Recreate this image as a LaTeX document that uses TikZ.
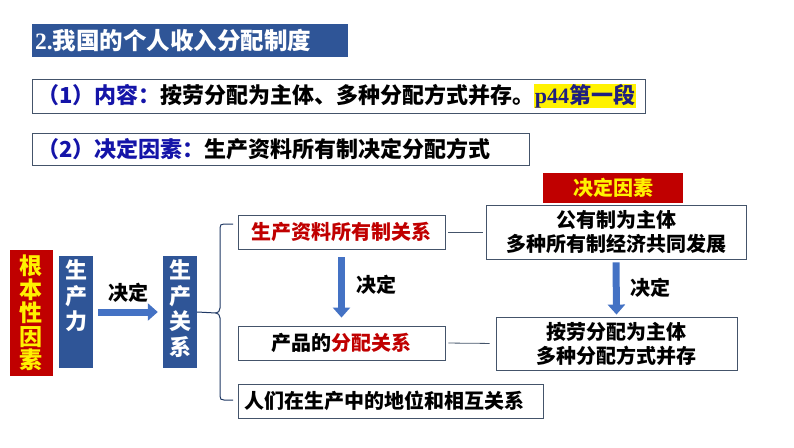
\documentclass[tikz,border=0pt]{standalone}
\usepackage{fontspec}
\usepackage{xcolor}
\usepackage{tikz}
\setmainfont{Noto Sans CJK SC}
\newfontfamily\tms{Liberation Serif}
\usetikzlibrary{arrows.meta}

\definecolor{titleblue}{HTML}{2F5597}
\definecolor{darkred}{HTML}{C00000}
\definecolor{labelblue}{HTML}{1414A8}
\definecolor{navy}{HTML}{1F1F80}
\definecolor{framecol}{HTML}{44546A}
\definecolor{arrowfill}{HTML}{4472C4}
\definecolor{bracecol}{HTML}{1F3864}

\begin{document}
\begin{tikzpicture}[x=1pt,y=-1pt]
  \tikzstyle{frame}=[draw=framecol,line width=0.9pt,inner sep=0pt,font=\bfseries\fontsize{20}{24}\selectfont,align=center]
  \tikzstyle{vbox}=[fill=titleblue,inner sep=0pt,text=white,font=\bfseries\fontsize{22}{25.5}\selectfont]
  \tikzstyle{bigarrow}=[draw=arrowfill!70!black,line width=7pt,-{Triangle[length=10pt,width=17pt]},arrowfill]
  \tikzstyle{link}=[draw=framecol,line width=0.8pt]
  \tikzstyle{brace}=[draw=bracecol,line width=1pt]
  \tikzstyle{verb}=[font=\bfseries\fontsize{20}{24}\selectfont]
  \useasboundingbox (0,0) rectangle (794,447);

  % header lines
  \node[fill=titleblue,minimum width=316pt,minimum height=33pt,inner sep=0pt,
    text width=310pt,align=left,text=white,font=\bfseries\fontsize{23.5}{26}\selectfont]
    (title) at (190,40.5) {{\tms\bfseries 2.}我国的个人收入分配制度};
  \node[frame,minimum width=613pt,minimum height=34pt,text width=603pt,align=left,
    font=\bfseries\fontsize{22}{24}\selectfont]
    (content) at (338.5,96) {\textcolor{labelblue}{（1）内容：}按劳分配为主体、多种分配方式并存。{\fboxsep=0.5pt\colorbox{yellow}{\textcolor{navy}{{\tms\bfseries p44}第一段}}}};
  \node[frame,minimum width=497pt,minimum height=32pt,text width=487pt,align=left,
    font=\bfseries\fontsize{22}{24}\selectfont]
    (factor) at (280.5,149) {\textcolor{labelblue}{（2）决定因素：}生产资料所有制决定分配方式};

  % left column
  \node[vbox,fill=darkred,text=yellow,minimum width=43pt,minimum height=126pt,
    font=\bfseries\fontsize{23}{23.5}\selectfont]
    (root) at (31.5,313) {\parbox[c][118pt][c]{26pt}{\centering 根\\本\\性\\因\\素}};
  \node[vbox,minimum width=34pt,minimum height=112pt] (sl) at (76,312)
    {\parbox[c][104pt][t]{24pt}{\centering 生\\产\\力}};
  \node[vbox,minimum width=34pt,minimum height=112pt] (sg) at (180,312)
    {\parbox[c][104pt][t]{24pt}{\centering 生\\产\\关\\系}};
  \draw[bigarrow,shorten <=5pt,shorten >=5pt] (sl.east) -- (sg.west);
  \node[verb] (d1) at (128,293) {决定};

  % brace
  \coordinate (tip) at (216,313);
  \draw[brace] (sg.east) -- (tip);
  \draw[brace] (233,224) -- (224,224) .. controls (221,224) and (220,225) .. (220,228)
    -- (220,308) .. controls (220,311) and (218,313) .. (tip)
    .. controls (218,313) and (220,315) .. (220,318)
    -- (220,396) .. controls (220,399) and (221,400) .. (224,400) -- (233,400);

  % middle column
  \node[frame,minimum width=207pt,minimum height=34pt,text=darkred] (sc) at (341.5,232) {生产资料所有制关系};
  \node[frame,minimum width=207pt,minimum height=34pt] (fp) at (341.5,343) {产品的\textcolor{darkred}{分配关系}};
  \node[frame,minimum width=305pt,minimum height=34pt,text width=293pt,align=left] (rel) at (390.5,401) {人们在生产中的地位和相互关系};
  \draw[bigarrow,shorten <=8pt,shorten >=8pt] (sc.south) -- (fp.north);
  \node[verb] (d2) at (376,285) {决定};

  % right column
  \node[fill=darkred,text=yellow,minimum width=140pt,minimum height=30pt,inner sep=0pt,
    font=\bfseries\fontsize{20}{24}\selectfont] (key) at (613,188) {决定因素};
  \node[frame,minimum width=260pt,minimum height=54pt] (own) at (616,232) {公有制为主体\\多种所有制经济共同发展};
  \node[frame,minimum width=241pt,minimum height=53pt] (dist) at (616.5,343.5) {按劳分配为主体\\多种分配方式并存};
  \draw[bigarrow,shorten <=3pt,shorten >=2pt] (own.south) -- (dist.north);
  \node[verb] (d3) at (650,288) {决定};

  \draw[link,shorten <=3pt,shorten >=3pt] (sc.east) -- (own.west);
  \draw[link,shorten <=3pt,shorten >=6pt] (fp.east) -- (dist.west);
\end{tikzpicture}
\end{document}
